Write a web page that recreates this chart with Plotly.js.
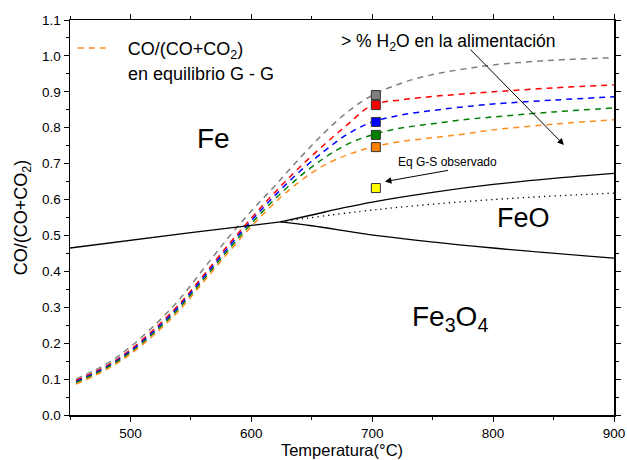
<!DOCTYPE html>
<html><head><meta charset="utf-8">
<script src="https://cdn.plot.ly/plotly-3.0.1.min.js"></script>
<style>html,body{margin:0;padding:0;background:#fff}</style>
</head><body>
<div id="chart" style="width:627px;height:460px"></div>
<script>
// Equilibrium curves CO/(CO+CO2), gas-gas
const temps   = [455, 470, 485, 500, 520, 540, 560, 580, 600, 620, 640, 660, 680, 700, 725, 750, 775, 800, 850, 900];
const grayEq  = [0.100,0.124,0.152,0.190,0.250,0.320,0.405,0.490,0.568,0.640,0.715,0.785,0.845,0.890,0.925,0.948,0.963,0.975,0.988,0.995];
const redEq   = [0.096,0.119,0.146,0.182,0.240,0.307,0.387,0.470,0.548,0.622,0.690,0.752,0.810,0.863,0.878,0.887,0.894,0.900,0.911,0.919];
const blueEq  = [0.093,0.116,0.143,0.178,0.235,0.302,0.381,0.463,0.541,0.613,0.678,0.734,0.783,0.816,0.836,0.848,0.858,0.866,0.877,0.886];
const greenEq = [0.090,0.113,0.140,0.174,0.230,0.296,0.375,0.456,0.533,0.603,0.664,0.715,0.755,0.780,0.800,0.811,0.822,0.830,0.844,0.855];
const orangeEq= [0.086,0.109,0.136,0.170,0.225,0.290,0.369,0.449,0.525,0.593,0.650,0.695,0.725,0.746,0.762,0.772,0.782,0.794,0.810,0.822];

// Phase boundaries
const feFe3o4T = [450, 500, 550, 600, 624];
const feFe3o4V = [0.465, 0.487, 0.508, 0.528, 0.538];
const feFeoT = [624, 650, 675, 700, 750, 800, 850, 900];
const feFeoV = [0.538, 0.557, 0.576, 0.593, 0.620, 0.642, 0.659, 0.673];
const dotT = [624, 706, 800, 900];
const dotV = [0.538, 0.573, 0.600, 0.618];
const feoFe3o4T = [624, 650, 706, 800, 900];
const feoFe3o4V = [0.538, 0.527, 0.499, 0.465, 0.437];

// Observed points at 700 °C
const pointT = 703;
const pointV = [0.891, 0.863, 0.816, 0.780, 0.746, 0.632];
const pointColors = ['#808080', '#ff0000', '#0000ff', '#008000', '#ff8000', '#ffff00'];

const eqSeries = [
  {y: grayEq, c: '#808080'},
  {y: redEq, c: '#ff0000'},
  {y: blueEq, c: '#0000ff'},
  {y: greenEq, c: '#008000'},
  {y: orangeEq, c: '#ff8c1a', legend: true}
];

const pad = '&nbsp;&nbsp;&nbsp;';
const traces = [];
eqSeries.forEach(s => traces.push({
  x: temps, y: s.y, mode: 'lines', type: 'scatter',
  line: {color: s.c, width: 1.5, dash: '6px,5px', shape: 'spline'},
  showlegend: !!s.legend,
  name: pad + 'CO/(CO+CO<sub>2</sub>)',
  hoverinfo: 'skip'
}));
const blk = {color: '#000', width: 1.3};
traces.push({x: feFe3o4T, y: feFe3o4V, mode: 'lines', line: blk, showlegend: false});
traces.push({x: feFeoT, y: feFeoV, mode: 'lines', line: Object.assign({shape: 'spline'}, blk), showlegend: false});
traces.push({x: feoFe3o4T, y: feoFe3o4V, mode: 'lines', line: Object.assign({shape: 'spline'}, blk), showlegend: false});
traces.push({x: dotT, y: dotV, mode: 'lines', line: {color: '#000', width: 1.3, dash: '1.3px,4px', shape: 'spline'}, showlegend: false});
traces.push({
  x: pointV.map(() => pointT), y: pointV, mode: 'markers', showlegend: false,
  marker: {symbol: 'square', size: 9, color: pointColors, line: {color: '#333', width: 1}}
});

const fnt = 'Liberation Sans, Arial, sans-serif';
const layout = {
  width: 627, height: 460,
  margin: {l: 70, r: 13, t: 20, b: 45},
  paper_bgcolor: '#fff', plot_bgcolor: '#fff',
  font: {family: fnt, color: '#000', size: 13.5},
  showlegend: true,
  legend: {x: 0.005, y: 0.975, xanchor: 'left', yanchor: 'top', bgcolor: 'rgba(0,0,0,0)',
           font: {size: 18, family: fnt}, itemwidth: 30},
  xaxis: {
    range: [450, 900], dtick: 100, tick0: 500, showgrid: false, zeroline: false,
    showline: true, linecolor: '#000', linewidth: 1.5, mirror: 'ticks',
    ticks: 'outside', ticklen: 5, tickcolor: '#000',
    minor: {dtick: 50, ticks: 'outside', ticklen: 3, tickcolor: '#000'},
    tickfont: {size: 13.5},
    title: {text: 'Temperatura(°C)', font: {size: 16.5}, standoff: 1}
  },
  yaxis: {
    range: [0, 1.1], dtick: 0.1, tickformat: '.1f', showgrid: false, zeroline: false,
    showline: true, linecolor: '#000', linewidth: 1.5, mirror: 'ticks',
    ticks: 'outside', ticklen: 5, tickcolor: '#000',
    minor: {dtick: 0.05, ticks: 'outside', ticklen: 3, tickcolor: '#000'},
    tickfont: {size: 13.5},
    title: {text: 'CO/(CO+CO<sub>2</sub>)', font: {size: 18}, standoff: 9}
  },
  annotations: [
    {x: 0.103, y: 0.893, xref: 'paper', yref: 'paper', xanchor: 'left', text: 'en equilibrio G - G', showarrow: false, font: {size: 18}},
    {x: 569, y: 0.77, xref: 'x', yref: 'y', text: 'Fe', showarrow: false, font: {size: 28}},
    {x: 825, y: 0.55, xref: 'x', yref: 'y', text: 'FeO', showarrow: false, font: {size: 27}},
    {x: 764, y: 0.27, xref: 'x', yref: 'y', text: 'Fe<sub>3</sub>O<sub>4</sub>', showarrow: false, font: {size: 28}},
    {x: 763, y: 1.036, xref: 'x', yref: 'y', text: '> % H<sub>2</sub>O en la alimentación', showarrow: false, font: {size: 17.5}},
    {x: 858.6, y: 0.752, ax: 780, ay: 1.022, xref: 'x', yref: 'y', axref: 'x', ayref: 'y', text: '',
     showarrow: true, arrowhead: 2, arrowsize: 1.3, arrowwidth: 1, arrowcolor: '#000'},
    {x: 762.6, y: 0.705, xref: 'x', yref: 'y', text: 'Eq G-S observado', showarrow: false, font: {size: 12}},
    {x: 710.5, y: 0.65, ax: 764, ay: 0.682, xref: 'x', yref: 'y', axref: 'x', ayref: 'y', text: '',
     showarrow: true, arrowhead: 2, arrowsize: 1.3, arrowwidth: 1, arrowcolor: '#000'}
  ]
};
Plotly.newPlot('chart', traces, layout, {displayModeBar: false, staticPlot: true});
</script>
</body></html>
